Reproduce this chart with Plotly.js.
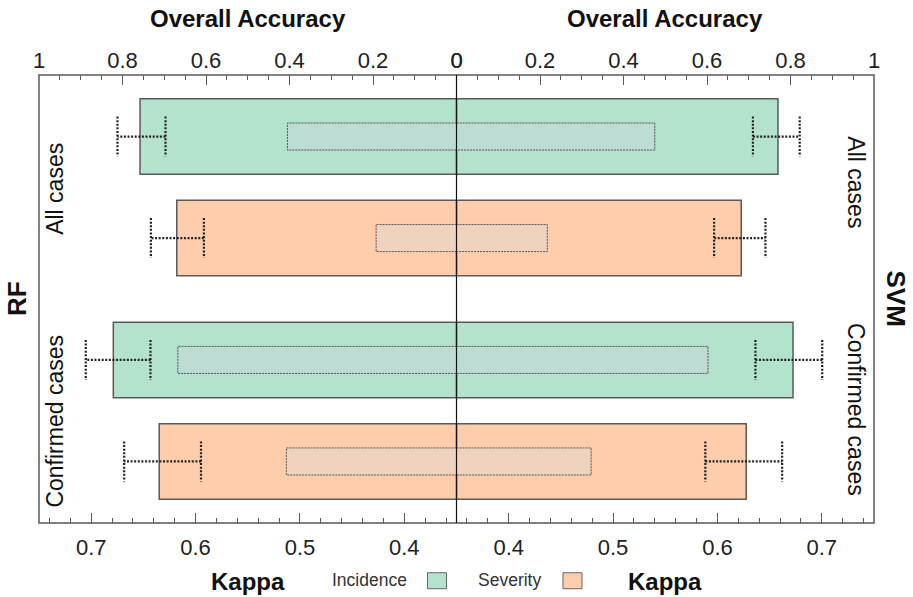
<!DOCTYPE html>
<html>
<head>
<meta charset="utf-8">
<script src="https://cdn.plot.ly/plotly-3.0.1.min.js"></script>
<style>html,body{margin:0;padding:0;background:#fff;}#chart{width:913px;height:597px;}</style>
</head>
<body>
<div id="chart"></div>
<script>
// ---- data ----
const caseGroups = ['All cases', 'Confirmed cases'];
const outcomes = ['Incidence', 'Severity'];
// rows: All/Incidence, All/Severity, Confirmed/Incidence, Confirmed/Severity
const rfOA = [0.758, 0.670, 0.822, 0.712];
const svmOA = [0.770, 0.682, 0.806, 0.694];
const rfOALow = [0.697, 0.605, 0.733, 0.612];
const rfOAHigh = [0.812, 0.732, 0.888, 0.796];
const svmOALow = [0.710, 0.617, 0.716, 0.596];
const svmOAHigh = [0.822, 0.740, 0.876, 0.780];
const rfKappa = [0.512, 0.427, 0.617, 0.513];
const svmKappa = [0.540, 0.437, 0.591, 0.479];
const kappaBase = 0.35;

// ---- styling ----
const FONT = '"Liberation Sans", Arial, sans-serif';
const barColor = {Incidence: '#b3e2cd', Severity: '#fdcdac'};
const innerColor = {Incidence: '#bcdcd4', Severity: '#f0d3bf'};
const frameColor = '#5a5a5a';
const groupGap = 2.2, barW = 0.744, innerHalf = 0.133, capHalf = 0.197;

const pos = [], rowOutcome = [];
caseGroups.forEach((g, gi) => outcomes.forEach((o, oi) => { pos.push(gi * groupGap + oi); rowOutcome.push(o); }));

const traces = [];
function barTrace(vals, xa) {
  return {type: 'bar', orientation: 'h', x: vals, y: pos, width: barW, xaxis: xa, yaxis: 'y',
    marker: {color: rowOutcome.map(o => barColor[o]), line: {color: frameColor, width: 1.5}},
    hoverinfo: 'skip', showlegend: false};
}
traces.push(barTrace(rfOA, 'x'));
traces.push(barTrace(svmOA, 'x3'));

function kappaRects(vals, xa) {
  vals.forEach((k, i) => {
    const p = pos[i];
    traces.push({type: 'scatter', mode: 'lines', xaxis: xa, yaxis: 'y',
      x: [kappaBase, k, k, kappaBase, kappaBase],
      y: [p - innerHalf, p - innerHalf, p + innerHalf, p + innerHalf, p - innerHalf],
      fill: 'toself', fillcolor: innerColor[rowOutcome[i]],
      line: {color: '#555', width: 1, dash: '2px,1px'}, hoverinfo: 'skip', showlegend: false});
  });
}
kappaRects(rfKappa, 'x2');
kappaRects(svmKappa, 'x4');

function errTrace(lo, hi, xa) {
  const x = [], y = [];
  lo.forEach((l, i) => {
    const h = hi[i], p = pos[i];
    x.push(l, h, null, l, l, null, h, h, null);
    y.push(p, p, null, p - capHalf, p + capHalf, null, p - capHalf, p + capHalf, null);
  });
  return {type: 'scatter', mode: 'lines', x: x, y: y, xaxis: xa, yaxis: 'y',
    line: {color: '#222', width: 2.2, dash: '2px,1.6px'}, hoverinfo: 'skip', showlegend: false, connectgaps: false};
}
traces.push(errTrace(rfOALow, rfOAHigh, 'x'));
traces.push(errTrace(svmOALow, svmOAHigh, 'x3'));

const tickFont = {family: FONT, size: 22, color: '#222'};
function oaAxis(domain, range) {
  return {domain: domain, range: range, side: 'top', anchor: 'y', showgrid: false, zeroline: false, showline: false,
    tick0: 0, dtick: 0.2, ticks: 'inside', ticklen: 10, tickcolor: frameColor, tickwidth: 1,
    minor: {ticks: 'inside', dtick: 0.05, tick0: 0, ticklen: 5, tickcolor: frameColor, tickwidth: 1},
    tickfont: tickFont, ticklabelstandoff: 2, fixedrange: true};
}
function kAxis(over, range) {
  return {overlaying: over, range: range, side: 'bottom', anchor: 'y', showgrid: false, zeroline: false, showline: false,
    tick0: 0, dtick: 0.1, ticks: 'inside', ticklen: 10, tickcolor: frameColor, tickwidth: 1,
    minor: {ticks: 'inside', dtick: 0.02, tick0: 0, ticklen: 5, tickcolor: frameColor, tickwidth: 1},
    tickfont: tickFont, tickformat: '.1f', ticklabelstandoff: 9, fixedrange: true};
}

const yTop = -0.606, yBot = groupGap + 1 + 0.606;
const ann = (text, x, y, size, extra) => Object.assign({text: text, xref: 'paper', yref: 'paper', x: x, y: y, showarrow: false,
  xanchor: 'center', yanchor: 'middle', font: {family: FONT, size: size, color: '#111'}}, extra || {});
const px = v => (v - 39) / 835.5, py = v => (523.5 - v) / 448.5;

const layout = {
  width: 913, height: 597,
  margin: {l: 39, r: 38.5, t: 75, b: 73.5, pad: 0},
  paper_bgcolor: '#fff', plot_bgcolor: '#fff',
  barmode: 'overlay',
  showlegend: false,
  font: {family: FONT, color: '#222'},
  xaxis: oaAxis([0, 0.5], [1, 0]),
  xaxis2: kAxis('x', [0.75, kappaBase]),
  xaxis3: oaAxis([0.5, 1], [0, 1]),
  xaxis4: kAxis('x3', [kappaBase, 0.75]),
  yaxis: {range: [yBot, yTop], showgrid: false, zeroline: false, showline: false, showticklabels: false, ticks: '', anchor: 'x', fixedrange: true},
  shapes: [
    {type: 'rect', xref: 'paper', yref: 'paper', x0: 0, x1: 1, y0: 0, y1: 1, line: {color: frameColor, width: 1.5}, layer: 'above'},
    {type: 'line', xref: 'paper', yref: 'paper', x0: 0.5, x1: 0.5, y0: 0, y1: 1, line: {color: '#111', width: 1.2}, layer: 'above'},
    {type: 'rect', xref: 'paper', yref: 'paper', x0: px(427.7), x1: px(446.7), y0: py(589.3), y1: py(573.3), fillcolor: barColor.Incidence, line: {color: '#666', width: 1}},
    {type: 'rect', xref: 'paper', yref: 'paper', x0: px(563.3), x1: px(582.3), y0: py(589.3), y1: py(573.3), fillcolor: barColor.Severity, line: {color: '#666', width: 1}}
  ],
  annotations: [
    ann('<b>Overall Accuracy</b>', 0.25, py(18), 24),
    ann('<b>Overall Accuracy</b>', 0.75, py(18), 24),
    ann('<b>Kappa</b>', 0.25, py(582), 24),
    ann('<b>Kappa</b>', 0.75, py(582), 24),
    ann(outcomes[0], px(370), py(581), 17.5, {font: {family: FONT, size: 17.5, color: '#333'}}),
    ann(outcomes[1], px(510), py(581), 17.5, {font: {family: FONT, size: 17.5, color: '#333'}}),
    ann('<b>RF</b>', px(17), 0.5, 26, {textangle: -90}),
    ann('<b>SVM</b>', px(897), 0.5, 26, {textangle: 90}),
    ann(caseGroups[0], px(55), py(189), 23, {textangle: -90}),
    ann(caseGroups[1], px(55), py(421), 23, {textangle: -90}),
    ann(caseGroups[0], px(857), py(182), 23, {textangle: 90}),
    ann(caseGroups[1], px(857), py(410), 23, {textangle: 90})
  ]
};

Plotly.newPlot('chart', traces, layout, {displayModeBar: false, staticPlot: true});
</script>
</body>
</html>
